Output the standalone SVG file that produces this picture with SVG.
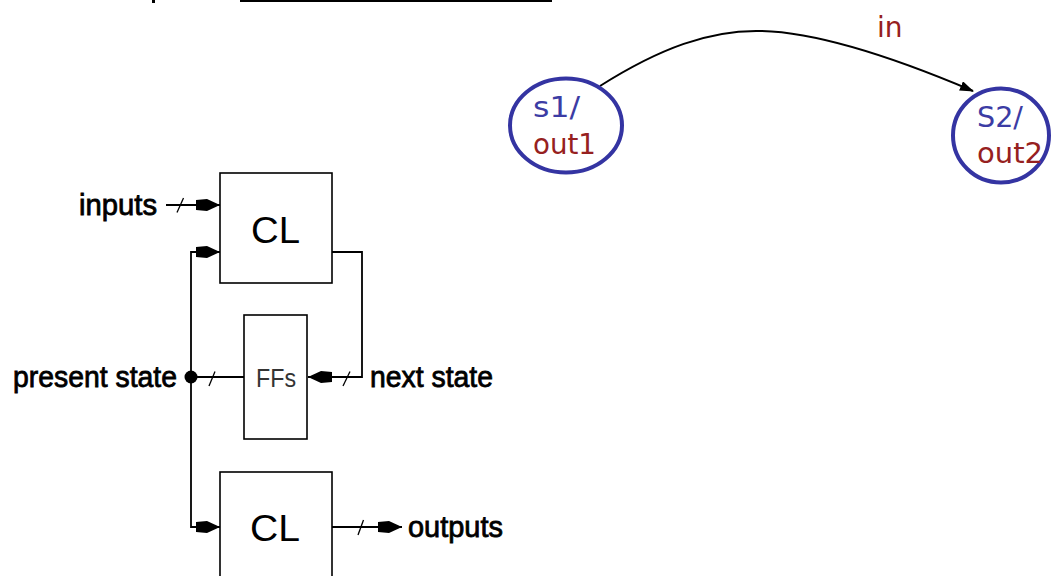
<svg xmlns="http://www.w3.org/2000/svg" width="1056" height="576" viewBox="0 0 1056 576">
<style>
.lbl{font-family:"Liberation Sans",Arial,sans-serif;font-size:30px;fill:#000;stroke:#000;stroke-width:0.8}
.box{fill:#fff;stroke:#000;stroke-width:1.6}
.cl{font-family:"Liberation Sans",Arial,sans-serif;font-size:37px;fill:#000}
.ff{font-family:"Liberation Sans",Arial,sans-serif;font-size:25px;fill:#333}
.wire{fill:none;stroke:#000;stroke-width:1.8}
.slash{stroke:#000;stroke-width:1.3}
.st{fill:#fff;stroke:#3434a2;stroke-width:4}
.sn{font-family:"DejaVu Sans",Verdana,sans-serif;font-size:28px;fill:#3c3ca4}
.so{font-family:"DejaVu Sans",Verdana,sans-serif;font-size:28px;fill:#962020}
.arc{fill:none;stroke:#000;stroke-width:2}
</style>
<defs>
<marker id="blk" viewBox="0 0 24 16" markerWidth="24" markerHeight="16" refX="24" refY="8" orient="auto" markerUnits="userSpaceOnUse">
<path d="M0,3 L11,2 L24,8 L11,14 L0,13 Z" fill="#000"/>
</marker>
<marker id="tri" viewBox="0 0 14 10" markerWidth="14" markerHeight="10" refX="13" refY="5" orient="auto" markerUnits="userSpaceOnUse">
<path d="M0,0 L14,5 L0,10 Z" fill="#000"/>
</marker>
</defs>
<rect width="1056" height="576" fill="#fff"/>
<line x1="240" y1="1" x2="552" y2="1" stroke="#000" stroke-width="2"/>
<rect x="152" y="0" width="3" height="3" fill="#000"/>
<g id="connectors">
<path class="wire" d="M166,205 L220,205" marker-end="url(#blk)"/>
<path class="wire" d="M191,377 L191,252 L220,252" marker-end="url(#blk)"/>
<path class="wire" d="M191,377 L191,527 L220,527" marker-end="url(#blk)"/>
<path class="wire" d="M191,377 L244,377"/>
<path class="wire" d="M332,252 L362,252 L362,377 L308,377" marker-end="url(#blk)"/>
<path class="wire" d="M332,527 L402,527" marker-end="url(#blk)"/>
<circle cx="191" cy="377" r="6.5" fill="#000"/>
<line class="slash" x1="177" y1="212.5" x2="183.5" y2="198"/>
<line class="slash" x1="209" y1="386" x2="215" y2="371.5"/>
<line class="slash" x1="343" y1="386" x2="350" y2="371.5"/>
<line class="slash" x1="358" y1="535" x2="363.5" y2="520"/>
<path class="arc" d="M600,86 C660,48 710,30 760,31 C820,32 900,60 973,91" marker-end="url(#tri)"/>
<text class="so" x="877" y="37">in</text>
</g>
<g id="inputs"><text class="lbl" x="79" y="215" textLength="78" lengthAdjust="spacingAndGlyphs">inputs</text></g>
<g id="cl-top">
<rect class="box" x="220" y="173" width="112" height="110"/>
<text class="cl" x="251" y="243" textLength="49" lengthAdjust="spacingAndGlyphs">CL</text>
</g>
<g id="ffs">
<rect class="box" x="244" y="315" width="63" height="124"/>
<text class="ff" x="256" y="387" textLength="40" lengthAdjust="spacingAndGlyphs">FFs</text>
</g>
<g id="cl-bottom">
<rect class="box" x="220" y="472" width="112" height="110"/>
<text class="cl" x="250" y="541" textLength="50" lengthAdjust="spacingAndGlyphs">CL</text>
</g>
<g id="present-state"><text class="lbl" x="13" y="387" textLength="164" lengthAdjust="spacingAndGlyphs">present state</text></g>
<g id="next-state"><text class="lbl" x="370" y="387" textLength="123" lengthAdjust="spacingAndGlyphs">next state</text></g>
<g id="outputs"><text class="lbl" x="408" y="537" textLength="95" lengthAdjust="spacingAndGlyphs">outputs</text></g>
<g id="s1">
<ellipse class="st" cx="566" cy="125.5" rx="56" ry="47"/>
<text class="sn" x="533" y="117" textLength="47" lengthAdjust="spacingAndGlyphs">s1/</text>
<text class="so" x="533" y="154" textLength="63" lengthAdjust="spacingAndGlyphs">out1</text>
</g>
<g id="s2">
<ellipse class="st" cx="1001" cy="135.5" rx="48" ry="47"/>
<text class="sn" x="977" y="127" textLength="46" lengthAdjust="spacingAndGlyphs">S2/</text>
<text class="so" x="977" y="163" textLength="66" lengthAdjust="spacingAndGlyphs">out2</text>
</g>
</svg>
